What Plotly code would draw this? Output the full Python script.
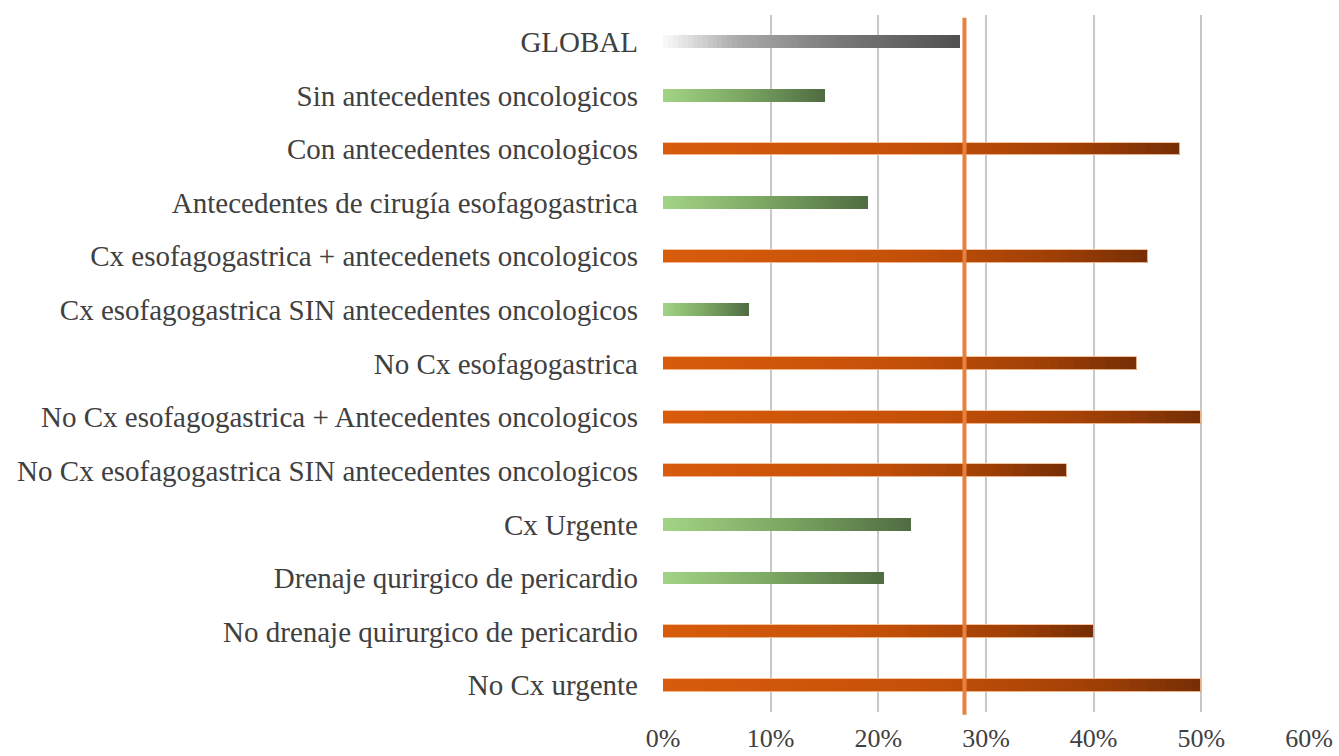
import plotly.graph_objects as go

categories = [
    "GLOBAL",
    "Sin antecedentes oncologicos",
    "Con antecedentes oncologicos",
    "Antecedentes de cirugía esofagogastrica",
    "Cx esofagogastrica + antecedenets oncologicos",
    "Cx esofagogastrica SIN antecedentes oncologicos",
    "No Cx esofagogastrica",
    "No Cx esofagogastrica + Antecedentes oncologicos",
    "No Cx esofagogastrica SIN antecedentes oncologicos",
    "Cx Urgente",
    "Drenaje qurirgico de pericardio",
    "No drenaje quirurgico de pericardio",
    "No Cx urgente",
]
values = [27.6, 15, 48, 19, 45, 8, 44, 50, 37.5, 23, 20.5, 40, 50]
groups = ["global", "low", "high", "low", "high", "low", "high", "high", "high", "low", "low", "high", "high"]
reference_value = 28
tick_values = [0, 10, 20, 30, 40, 50, 60]
tick_labels = ["0%", "10%", "20%", "30%", "40%", "50%", "60%"]

# gradient stops per group (position along bar, rgb)
gradients = {
    "global": [(0.0, (250, 250, 250)), (0.25, (170, 170, 170)), (0.6, (120, 120, 120)), (1.0, (80, 80, 80))],
    "low": [(0.0, (163, 212, 133)), (0.5, (122, 166, 98)), (1.0, (80, 108, 66))],
    "high": [(0.0, (216, 92, 12)), (0.5, (196, 80, 8)), (0.8, (160, 64, 6)), (1.0, (118, 46, 6))],
}
outline = {"global": "rgba(0,0,0,0)", "low": "rgba(0,0,0,0)", "high": "rgba(245,190,150,0.9)"}


def color_at(group, t):
    stops = gradients[group]
    for (p0, c0), (p1, c1) in zip(stops[:-1], stops[1:]):
        if p0 <= t <= p1:
            f = (t - p0) / (p1 - p0)
            c = [round(a + (b - a) * f) for a, b in zip(c0, c1)]
            return f"rgb({c[0]},{c[1]},{c[2]})"
    c = stops[-1][1]
    return f"rgb({c[0]},{c[1]},{c[2]})"


N = 60
fig = go.Figure()
bar_width = 0.24
for k in range(N):
    t = (k + 0.5) / N
    fig.add_trace(go.Bar(
        y=categories,
        x=[v / N * 1.05 if k < N - 1 else v / N for v in values],
        base=[v * k / N for v in values],
        orientation="h",
        width=bar_width,
        marker=dict(color=[color_at(g, t) for g in groups], line=dict(width=0)),
        showlegend=False,
        hoverinfo="skip",
    ))

# thin outline for each bar
fig.add_trace(go.Bar(
    y=categories,
    x=values,
    orientation="h",
    width=bar_width,
    marker=dict(color="rgba(0,0,0,0)", line=dict(color=[outline[g] for g in groups], width=1)),
    showlegend=False,
    hoverinfo="skip",
))

fig.add_shape(type="line", xref="x", yref="paper", x0=reference_value, x1=reference_value,
              y0=-0.004, y1=0.996, line=dict(color="#e8803f", width=4), layer="above")

fig.update_layout(
    width=1339,
    height=756,
    margin=dict(l=663, r=30, t=15, b=44, autoexpand=False),
    barmode="overlay",
    bargap=0,
    paper_bgcolor="white",
    plot_bgcolor="white",
    font=dict(family="Liberation Serif, Times New Roman, serif", size=29, color="#404040"),
)
fig.update_xaxes(
    range=[0, 60],
    tickvals=tick_values,
    ticktext=tick_labels,
    showgrid=True,
    gridcolor="#c8c8c8",
    gridwidth=2,
    zeroline=False,
    showline=False,
    ticks="",
    automargin=False,
    ticklabelstandoff=8,
    tickfont=dict(size=26, color="#404040"),
)
fig.update_yaxes(
    categoryorder="array",
    categoryarray=categories,
    autorange="reversed",
    showgrid=False,
    zeroline=False,
    showline=False,
    ticks="",
    automargin=False,
    ticklabelstandoff=24,
    tickfont=dict(size=29, color="#404040"),
)

fig.write_html(
    "out.html",
    config={"displayModeBar": False},
    post_script="document.body.style.margin='0';document.body.style.overflow='hidden';",
)
